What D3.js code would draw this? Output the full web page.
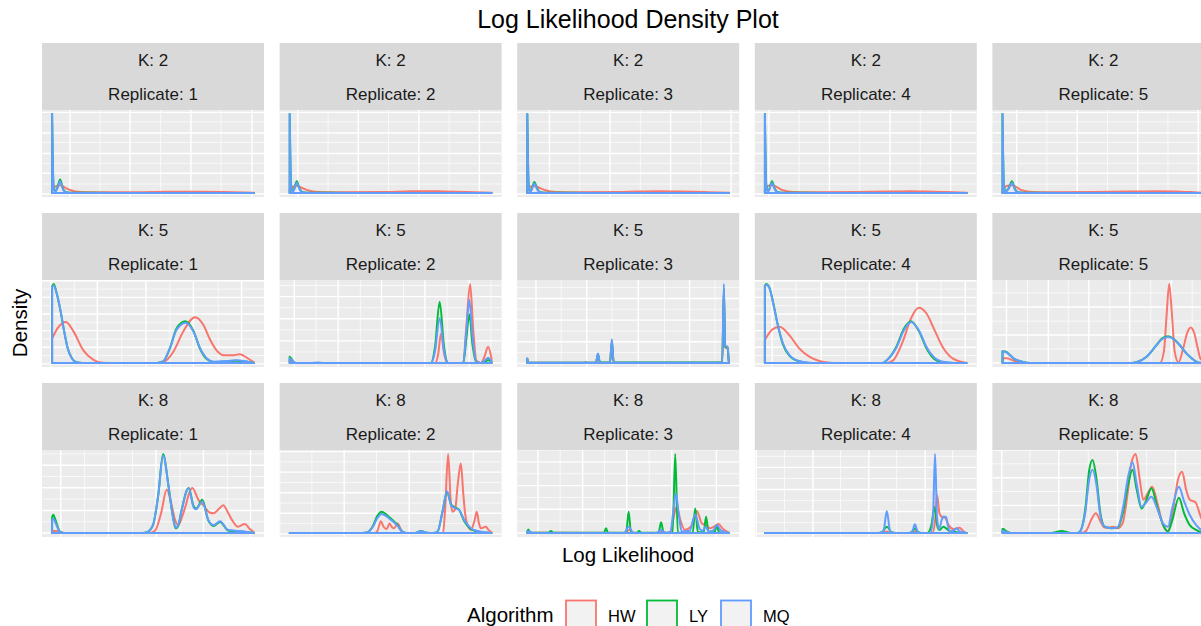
<!DOCTYPE html>
<html><head><meta charset="utf-8">
<script src="https://cdn.jsdelivr.net/npm/d3@7"></script>
<style>body{margin:0;background:#fff;} svg{display:block;font-family:"Liberation Sans",Arial,Helvetica,sans-serif;}</style>
</head><body><svg id="chart" width="1201" height="626"></svg>
<script>
// ---------------- DATA ----------------
const algorithms = ["HW", "LY", "MQ"];
const algColors = ["#F8766D", "#00BA38", "#619CFF"];
const kValues = [2, 5, 8];
const replicates = [1, 2, 3, 4, 5];
// density curves: [log-likelihood position (0-100 within panel range), relative density (panel max = 100)]
// K = 2
const k2r1_HW = [[0,4],[1.5,8],[3.5,10],[5.6,8],[8.9,3.8],[14,1.3],[25,1],[40,1],[57,1.5],[65,1.7],[72,1.5],[85,1.2],[100,0.3]];
const k2r1_LY = [[0,100],[0.7,10],[1.5,2],[2.5,6],[4,17],[5.5,5],[7,1],[10,0.3],[30,0.2],[100,0.1]];
const k2r1_MQ = [[0,100],[0.7,8],[1.5,1.5],[2.5,5],[4,15],[5.5,4],[7,0.8],[10,0.2],[30,0.1],[100,0.1]];
const k2r2_HW = [[0,4],[1.5,8],[3.5,9],[5.6,7],[8.9,3.5],[14,1.3],[25,1],[45,1.2],[60,2.2],[68,2.4],[76,2],[88,1.2],[100,0.3]];
const k2r2_LY = [[0,100],[0.7,10],[1.5,2],[2.3,6],[3.5,15],[5,5],[6.5,1],[10,0.3],[30,0.2],[100,0.1]];
const k2r2_MQ = [[0,100],[0.7,8],[1.5,1.5],[2.3,5],[3.5,13],[5,4],[6.5,0.8],[10,0.2],[30,0.1],[100,0.1]];
const k2r3_HW = [[0,4],[1.5,8],[3.5,9],[5.6,7],[8.9,3.5],[14,1.3],[25,1],[45,1.3],[55,2],[65,2.3],[75,2],[88,1.2],[100,0.3]];
const k2r3_LY = [[0,100],[0.7,10],[1.5,2],[2.3,6],[3.5,14],[5,5],[6.5,1],[10,0.3],[30,0.2],[100,0.1]];
const k2r3_MQ = [[0,100],[0.7,8],[1.5,1.5],[2.3,5],[3.5,12],[5,4],[6.5,0.8],[10,0.2],[30,0.1],[100,0.1]];
const k2r4_HW = [[0,4],[1.5,9],[3.5,10],[5.6,8],[8.9,3.6],[14,1.3],[25,1],[45,1.2],[62,1.8],[72,2.4],[80,2],[90,1.2],[100,0.3]];
const k2r4_LY = [[0,100],[0.7,10],[1.5,2],[2.3,6],[3.5,15],[5,5],[6.5,1],[10,0.3],[30,0.2],[100,0.1]];
const k2r4_MQ = [[0,100],[0.7,8],[1.5,1.5],[2.3,5],[3.5,13],[5,4],[6.5,0.8],[10,0.2],[30,0.1],[100,0.1]];
const k2r5_HW = [[0,4],[2,9],[4.5,10],[6.5,8],[9.5,3.6],[15,1.3],[25,1],[45,1.2],[63,1.8],[75,2.4],[85,2],[93,1.2],[100,0.3]];
const k2r5_LY = [[0,100],[0.7,10],[1.5,2],[3,6],[4.7,15],[6.2,5],[7.7,1],[11,0.3],[30,0.2],[100,0.1]];
const k2r5_MQ = [[0,100],[0.7,8],[1.5,1.5],[3,5],[4.7,13],[6.2,4],[7.7,0.8],[11,0.2],[30,0.1],[100,0.1]];
// K = 5
const k5r1_HW = [[0,31],[3,45],[6.9,52],[10.6,40],[15.5,16],[20.5,4],[25,0.4],[30,0],[52,0],[55,1],[60,14],[65,40],[70.8,58],[75,48],[78,31],[81.5,16],[84.8,10],[89,9.7],[93,11],[96.4,7],[100,1]];
const k5r1_LY = [[0,97],[0.8,100],[2.3,88],[4.3,64],[6,40],[7.7,19],[9.8,6],[12,1],[15,0],[52,0],[55,2],[58.4,19],[61.7,44],[66,53],[70,41],[73.3,18],[76.6,5],[80,1.2],[86.5,2],[91.4,3],[100,0]];
const k5r1_MQ = [[0,96],[0.8,98],[2.3,88],[4.3,65],[6,40],[7.7,19],[9.8,6],[12,1],[15,0],[52,0],[55,2],[58.4,19],[61.7,42],[66.2,51],[70,40],[73.3,19],[76.6,6],[80,1.7],[86.5,2.5],[91.4,3.4],[100,0]];
const k5r2_HW = [[0,3.8],[1,2.5],[2.5,0],[72,0],[73.5,10],[75,37.5],[76.5,12],[78,0],[86,0],[87.5,45],[89.4,100],[91,40],[92.5,3],[94.7,0],[96.5,8],[98.3,20.7],[100,6]];
const k5r2_LY = [[0,8],[1,5],[2.5,0.5],[4,0],[70,0],[72,20],[74.3,77.6],[76.5,20],[78.5,0],[86,0],[87.5,30],[89,61.6],[90.5,25],[92.5,1],[94.7,0],[97,2],[98.3,3.8],[100,1]];
const k5r2_MQ = [[0,6],[1,4],[2.5,0.5],[4,0],[10,0],[13.9,0.8],[17,0],[70,0],[72,15],[74.3,56.5],[76.5,15],[78.5,0],[86,0],[87.5,40],[89,80],[90.5,35],[92.5,1],[94.7,0],[97,4],[98.3,6.8],[100,2]];
const k5r3_HW = [[0,5],[0.5,1],[1,0.4],[34,0.4],[35,10],[36,0.4],[41,0.4],[41.9,26],[42.8,0.4],[96.6,0.6],[97.4,90],[98,20],[99.3,18],[99.8,3],[100,0.4]];
const k5r3_LY = [[0,5],[0.5,1],[1,0.5],[28.3,0.5],[29,1],[29.7,0.5],[34,0.5],[35,11],[36,0.6],[41,0.6],[41.9,28],[42.8,0.8],[96.6,0.9],[97.4,95],[98,21],[99.3,19],[99.8,3],[100,0.5]];
const k5r3_MQ = [[0,6],[0.5,1],[1,0.3],[28.3,0.3],[29,1.2],[29.7,0.3],[34,0.3],[35,12],[36,0.3],[41,0.3],[41.9,30],[42.8,0.3],[96.6,0.5],[97.4,100],[98,22],[99.3,20.7],[99.8,3],[100,0.3]];
const k5r4_HW = [[0,29],[3.5,42],[7.3,46],[12.2,35],[17,18.6],[22,8],[27,2.5],[32,0.4],[36,0],[60,0],[63.4,3],[68.3,27],[72.4,56.5],[76.2,70],[80,63],[84,42],[88,20.7],[93,6],[99.7,0.4]];
const k5r4_LY = [[0,98],[0.7,100],[2.3,95],[4.3,74],[6.4,48],[8.9,24],[12.2,9],[17,2],[22,0.2],[26,0],[58,0],[61,5],[65,20],[69,44],[72.4,53],[76.6,39],[80,19],[84,5],[88,1],[94,0],[100,0]];
const k5r4_MQ = [[0,97],[0.7,99],[2.3,94.5],[4.3,73],[6.4,48],[8.9,25],[12.2,10],[17,2.5],[22,0.4],[26,0],[58,0],[61,5],[65,18.6],[69,42],[72.4,52],[76.6,40],[80,20.7],[84,6.8],[88,1.7],[94,0.2],[100,0]];
const k5r5_HW = [[0,6],[2,6],[6,2.5],[9.5,0],[78,0],[80,15],[81.3,60],[82.6,100],[84,60],[85.3,15],[87.2,0.8],[89.5,18],[91.5,38],[93.3,45],[95,38],[96.8,18],[98.2,5],[100,3]];
const k5r5_LY = [[0,15],[1.5,14.5],[3.7,10],[6,5],[8.7,2.5],[12,0.4],[15,0],[64,0],[66.4,1],[71.4,8],[76.4,23],[79,31],[82,34],[85,30],[87,25],[92,10],[97,0.8],[99,0.2],[100,0]];
const k5r5_MQ = [[0,15],[1.5,14],[3.7,10],[6,5],[8.7,2.5],[12,0.4],[15,0],[64,0],[66.4,1],[71.4,8],[76.4,23],[79,30],[82,33],[85,30],[87,25],[92,10],[97,0.8],[99,0.2],[100,0]];
// K = 8
const k8r1_HW = [[0,2.5],[2,2.5],[4,1.5],[6,0],[48,0],[51,3],[54,25],[56.8,55],[59,38],[61,16],[62.5,10],[65,25],[69.5,57],[72.5,42],[75,35],[78,26],[80,25],[82.5,30],[84.8,35],[87.5,24],[89.8,14],[92,8],[95.5,11.4],[98,5],[100,1]];
const k8r1_LY = [[0,20],[0.5,23],[2,14],[3.5,3],[5,0.3],[7,0],[45,0],[47,1],[50,10],[52.6,48],[55,100],[57.6,61],[59.7,23],[61.2,6],[62.5,9],[64,27],[67.7,57],[70,35],[71.5,31],[74.4,42],[77.4,16],[80,9],[83.2,14],[87.3,3],[93,2],[100,0]];
const k8r1_MQ = [[0,16],[0.5,18],[2,11],[3.5,2.5],[5,0.3],[7,0],[45,0],[47,1],[50,10],[52.6,48],[55,98],[57.6,61],[59.7,23],[61.2,7],[62.5,10],[64,27],[67.7,56.5],[70.2,32],[71.3,30],[74.4,40],[77.4,16.5],[80,10],[83.2,15],[87.3,3.8],[93,2.5],[100,0]];
const k8r2_HW = [[0,0],[42,0],[43.5,3],[45.2,15],[46.5,8],[48,5],[49.5,12],[50.8,7],[51.8,6],[53.5,12],[55,5],[56.5,0.5],[58,0],[76,0],[77,30],[78.5,100],[79.8,40],[80.7,27],[82,30],[83.2,60],[84.8,88],[86,50],[87,23],[88.5,8],[89.8,4],[91.5,15],[92.7,27],[93.8,12],[94.7,6],[96,7],[97.2,8],[98.5,4],[100,1]];
const k8r2_LY = [[0,0],[36,0],[38.6,1],[41,8],[43.5,22],[45.5,27],[48,23],[50,18.6],[53.5,10],[56,1],[58,0],[62,0],[65,2.5],[68,0.5],[71,0],[73.3,2],[75.7,27],[78,52],[80,36],[81.5,33],[84,29],[86.5,15],[89.8,5],[93,2],[100,0]];
const k8r2_MQ = [[0,0],[36,0],[38.6,1],[41,7],[43.5,19],[45.5,24],[48,21],[50,17],[53.5,9],[56,1],[58,0],[62,0],[65,2.2],[68,0.5],[71,0],[73.3,2],[75.7,27],[78,53],[80,35],[81.5,32],[84,29],[86.5,16.5],[89.8,6],[93,2.5],[100,0]];
const k8r3_HW = [[0,0.5],[48,0.2],[50.5,4],[53,0.2],[64,0.2],[66.5,2],[69,0.2],[71,2],[72.5,20],[74,33],[76,15],[78,4],[81,8],[84,28],[86.5,12],[88.5,10],[90.5,6],[92.5,8],[94.7,11.4],[97,5],[100,0.5]];
const k8r3_LY = [[0,2],[0.5,4.6],[1.5,0.3],[10.5,0.3],[11.7,2.5],[13,0.3],[38,0.3],[39,6],[40,0.3],[49,0.3],[50.2,27],[51.4,0.3],[54.4,0.3],[55.4,2.5],[56.4,0.3],[65,0.3],[66.3,13.5],[67.6,0.3],[72,0.3],[73.3,100],[74.6,0.3],[82,0.5],[83.2,31],[84.5,1],[87.4,1],[88.6,20.7],[89.8,1],[92.8,1],[93.9,10],[95,1],[100,0]];
const k8r3_MQ = [[0,2],[1,2],[2.5,0.2],[48,0.2],[50.2,8],[52.5,0.2],[64,0.2],[66.3,4],[68.5,0.2],[71,1],[72.2,25],[73.6,50],[75,25],[76.5,2],[80.5,3],[83.2,23.6],[85.5,5],[87,3],[88.3,8],[90,2],[92,3],[94,10],[96,3],[100,0]];
const k8r4_HW = [[0,0],[58,0],[60.4,2],[62.5,0],[72,0],[74.3,2],[76.5,0],[83,0],[84.3,15],[85.3,48],[86.5,25],[88,20],[89.3,19.4],[91,10],[93.5,5],[96.4,6.8],[98.5,2],[100,0]];
const k8r4_LY = [[0,0],[56,0],[58,1],[60.4,8],[62.8,1],[65,0],[71,0],[72.8,1],[74.3,6],[75.8,1],[78,0],[80.5,0],[82.5,10],[84,33],[85.5,8],[86.5,4],[88.5,8],[89.8,6],[92,2],[95,1],[100,0]];
const k8r4_MQ = [[0,0],[57,0],[58.8,3],[60.4,28],[62,3],[63.5,0],[72,0],[73.2,3],[74.3,11],[75.5,3],[77,0],[82,0],[83.3,20],[84.3,100],[85.3,20],[86.3,5],[87.8,18],[88.5,21],[89.8,20],[90.8,8],[92,1.5],[94,4],[95,6],[96.5,2],[100,0]];
const k8r5_HW = [[0,1],[2,0.5],[4,0],[39,0],[41.5,3],[44,17],[46.3,25],[48.5,15],[50.5,7],[52,6.8],[55,8],[57,6],[59.5,12],[62,50],[64,90],[66,100],[68,68],[69.8,42],[71.5,48],[74.2,58.6],[77,35],[79.6,10],[82,2.5],[84.5,30],[87,68],[89,77.6],[91,55],[92.8,42],[95.6,39],[98.2,20.7],[100,10]];
const k8r5_LY = [[0,5],[0.5,5],[2,2],[4,0],[24,0],[29.3,2.5],[34,0],[37,0],[38.4,2],[41,30],[43,80],[44.6,92.4],[46.5,70],[48.5,25],[50.7,8],[54,6],[57,7],[59.8,27],[62.3,62],[64.4,80],[66.5,55],[68.9,31],[71,40],[73.8,56.5],[76.5,35],[79.6,10],[82,2],[84,15],[87.4,44.7],[90,25],[92.8,10],[96,4],[98.5,1],[100,0]];
const k8r5_MQ = [[0,3],[1,2],[3,0.5],[5,0],[37,0],[38.4,2],[41,26],[43,68],[44.6,80],[46.5,62],[48.5,22],[50.7,8],[54,6],[57,7],[59.8,33],[62.3,72],[64.4,89.5],[66.5,62],[68.9,33],[71,38],[73.8,46],[76.5,32],[79.6,12],[82,8],[84,30],[87.4,58.6],[90,40],[92.8,22.8],[96,10],[98.5,4],[100,2]];

// grid-line (break) positions per panel, in the same units
const k2r1_gx = [8.9,23.8,38.6,53.8,68.8,83.7,99], k2r1_gy = [-1.3,11.4,25,37.5,50,64,76,90,102];
const k2r2_gx = [4,19,34,49,64,79,94], k2r2_gy = [-1.3,11.4,25,37.5,50,64,76,90,102];
const k2r3_gx = [11,26,41,56,71,86,101], k2r3_gy = [-1.3,11.4,25,37.5,50,64,76,90,102];
const k2r4_gx = [2,17,32,47,62,77,92], k2r4_gy = [-1.3,11.4,25,37.5,50,64,76,90,102];
const k2r5_gx = [7,22,37,52,67,82,97], k2r5_gy = [-1.3,11.4,25,37.5,50,64,76,90,102];
const k5r1_gx = [-0.7,11,22.4,34.5,46.5,58.4,70,82.3,93.9], k5r1_gy = [-1,9.5,20,30.5,41,51.5,62,72.5,83,93.5,104];
const k5r2_gx = [2.3,13,24,35,45.5,56.4,67,78,89,99.7], k5r2_gy = [0,14,28,42,56,70,84,98];
const k5r3_gx = [4.3,16.8,29.5,42,55,68,80.4,93], k5r3_gy = [-0.5,13.2,27,40.5,54.3,68,81.6,95.3];
const k5r4_gx = [3.6,15.5,27.9,40,51.8,63.4,75.4,87.3,99.3], k5r4_gy = [-1,9.5,20,30.5,41,51.5,62,72.5,83,93.5,104];
const k5r5_gx = [2,12.4,22.7,32.6,42.8,53.2,63,73.5,83.7,94], k5r5_gy = [0,17.7,35.4,53,70.8,88.5,106];
const k8r1_gx = [4.3,16,27.9,39.8,51.5,63.4,75,86.8,98.3], k8r1_gy = [0,14.3,28.6,43,57.2,71.5,85.8,100];
const k8r2_gx = [-5,11,27,43,59.2,75.2,91], k8r2_gy = [-1,12,25,38,51,64,77,90,103];
const k8r3_gx = [5.3,16.3,27.4,38.3,49.3,60.4,71.6,82.7,93.7], k8r3_gy = [0,15,30,45,60,75,90,105];
const k8r4_gx = [-4.3,9.7,23.8,37.5,51.5,65.3,79.4,93], k8r4_gy = [-0.5,13.4,27.3,41.2,55,69,83,97];
const k8r5_gx = [-0.4,13.6,27.9,42.5,57,71.4,85.7,100], k8r5_gy = [0,17.5,35,52.5,70,87.5,105];

const densityTable = {
  k2r1:[k2r1_HW,k2r1_LY,k2r1_MQ], k2r2:[k2r2_HW,k2r2_LY,k2r2_MQ], k2r3:[k2r3_HW,k2r3_LY,k2r3_MQ], k2r4:[k2r4_HW,k2r4_LY,k2r4_MQ], k2r5:[k2r5_HW,k2r5_LY,k2r5_MQ],
  k5r1:[k5r1_HW,k5r1_LY,k5r1_MQ], k5r2:[k5r2_HW,k5r2_LY,k5r2_MQ], k5r3:[k5r3_HW,k5r3_LY,k5r3_MQ], k5r4:[k5r4_HW,k5r4_LY,k5r4_MQ], k5r5:[k5r5_HW,k5r5_LY,k5r5_MQ],
  k8r1:[k8r1_HW,k8r1_LY,k8r1_MQ], k8r2:[k8r2_HW,k8r2_LY,k8r2_MQ], k8r3:[k8r3_HW,k8r3_LY,k8r3_MQ], k8r4:[k8r4_HW,k8r4_LY,k8r4_MQ], k8r5:[k8r5_HW,k8r5_LY,k8r5_MQ]
};
const gridTable = {
  k2r1:[k2r1_gx,k2r1_gy], k2r2:[k2r2_gx,k2r2_gy], k2r3:[k2r3_gx,k2r3_gy], k2r4:[k2r4_gx,k2r4_gy], k2r5:[k2r5_gx,k2r5_gy],
  k5r1:[k5r1_gx,k5r1_gy], k5r2:[k5r2_gx,k5r2_gy], k5r3:[k5r3_gx,k5r3_gy], k5r4:[k5r4_gx,k5r4_gy], k5r5:[k5r5_gx,k5r5_gy],
  k8r1:[k8r1_gx,k8r1_gy], k8r2:[k8r2_gx,k8r2_gy], k8r3:[k8r3_gx,k8r3_gy], k8r4:[k8r4_gx,k8r4_gy], k8r5:[k8r5_gx,k8r5_gy]
};

// ---------------- LAYOUT ----------------
const svg = d3.select("#chart");
const panelW = 222, panelH = 87, stripH = 67;
const colX = replicates.map((r, i) => 42 + i * 237.6);
const rowT = kValues.map((k, i) => 110 + i * 170);
const defs = svg.append("defs");

svg.append("text").attr("x", 628).attr("y", 28).attr("text-anchor", "middle")
  .attr("font-size", 25).attr("fill", "#000").text("Log Likelihood Density Plot");

kValues.forEach((k, ri) => {
  replicates.forEach((rep, ci) => {
    const key = "k" + k + "r" + rep;
    const L = colX[ci], T = rowT[ri];
    const x = d3.scaleLinear().domain([-5, 105]).range([L, L + panelW]);
    const y = d3.scaleLinear().domain([-5, 105]).range([T + panelH, T]);
    const g = svg.append("g");
    // strip
    g.append("rect").attr("x", L).attr("y", T - stripH).attr("width", panelW).attr("height", stripH).attr("fill", "#D9D9D9");
    g.append("text").attr("x", L + panelW / 2).attr("y", T - 44).attr("text-anchor", "middle")
      .attr("font-size", 17).attr("fill", "#1A1A1A").text("K: " + k);
    g.append("text").attr("x", L + panelW / 2).attr("y", T - 10).attr("text-anchor", "middle")
      .attr("font-size", 17).attr("fill", "#1A1A1A").text("Replicate: " + rep);
    // panel
    g.append("rect").attr("x", L).attr("y", T).attr("width", panelW).attr("height", panelH).attr("fill", "#EBEBEB");
    const clipId = "clip-" + key;
    defs.append("clipPath").attr("id", clipId).append("rect")
      .attr("x", L).attr("y", T).attr("width", panelW).attr("height", panelH);
    const inner = g.append("g").attr("clip-path", "url(#" + clipId + ")");
    const [gx, gy] = gridTable[key];
    gy.forEach((v, i) => {
      inner.append("line").attr("x1", L).attr("x2", L + panelW).attr("y1", y(v)).attr("y2", y(v))
        .attr("stroke", "#fff").attr("stroke-width", i % 2 === 0 ? 1.4 : 0.7);
    });
    gx.forEach((u, i) => {
      inner.append("line").attr("y1", T).attr("y2", T + panelH).attr("x1", x(u)).attr("x2", x(u))
        .attr("stroke", "#fff").attr("stroke-width", i % 2 === 0 ? 1.4 : 0.7);
    });
    const area = d3.area().x(d => x(d[0])).y0(y(0)).y1(d => y(d[1])).curve(d3.curveMonotoneX);
    densityTable[key].forEach((series, ai) => {
      inner.append("path").attr("d", area(series)).attr("fill", "none")
        .attr("stroke", algColors[ai]).attr("stroke-width", 2).attr("stroke-linejoin", "round");
    });
  });
});

// axis titles
svg.append("text").attr("x", 628).attr("y", 562).attr("text-anchor", "middle")
  .attr("font-size", 20.5).attr("fill", "#000").text("Log Likelihood");
svg.append("text").attr("transform", "translate(27,323) rotate(-90)").attr("text-anchor", "middle")
  .attr("font-size", 20.5).attr("fill", "#000").text("Density");

// legend
const legendKeyX = [566, 647, 721];
svg.append("text").attr("x", 467).attr("y", 622).attr("font-size", 20.5).attr("fill", "#000").text("Algorithm");
algorithms.forEach((a, i) => {
  svg.append("rect").attr("x", legendKeyX[i]).attr("y", 600.5).attr("width", 30).attr("height", 31)
    .attr("fill", "#F2F2F2").attr("stroke", algColors[i]).attr("stroke-width", 1.8);
  svg.append("text").attr("x", legendKeyX[i] + 42).attr("y", 622).attr("font-size", 16.5).attr("fill", "#000").text(a);
});
</script></body></html>
